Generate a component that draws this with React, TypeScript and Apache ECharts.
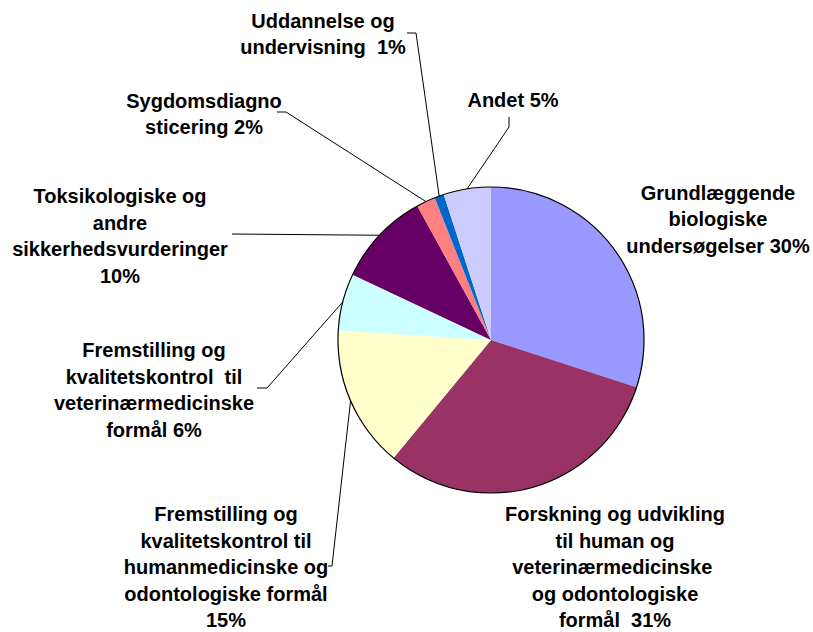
import React, { useEffect, useRef } from 'react';
import * as echarts from 'echarts';

const categories = [
  'Grundlæggende biologiske undersøgelser',
  'Forskning og udvikling til human og veterinærmedicinske og odontologiske formål',
  'Fremstilling og kvalitetskontrol til humanmedicinske og odontologiske formål',
  'Fremstilling og kvalitetskontrol til veterinærmedicinske formål',
  'Toksikologiske og andre sikkerhedsvurderinger',
  'Sygdomsdiagnosticering',
  'Uddannelse og undervisning',
  'Andet',
];
const values = [30, 31, 15, 6, 10, 2, 1, 5];
const labelTexts = [
  'Grundlæggende\nbiologiske\nundersøgelser {v}%',
  'Forskning og udvikling\ntil human og\nveterinærmedicinske \nog odontologiske\nformål  {v}%',
  'Fremstilling og\nkvalitetskontrol til\nhumanmedicinske og\nodontologiske formål\n{v}%',
  'Fremstilling og\nkvalitetskontrol  til\nveterinærmedicinske\nformål {v}%',
  'Toksikologiske og\nandre\nsikkerhedsvurderinger\n{v}%',
  'Sygdomsdiagno\nsticering {v}%',
  'Uddannelse og\nundervisning  {v}%',
  'Andet {v}%',
];
const colors = ['#9999FF', '#993366', '#FFFFCC', '#CCFFFF', '#660066', '#FF8080', '#0066CC', '#CCCCFF'];

// label placement (layout only): label centre and leader-line elbow/end
const labelPos: { x: number; y: number; line: number[][] | null }[] = [
  { x: 718, y: 219, line: null },
  { x: 615, y: 567, line: null },
  { x: 226, y: 567, line: [[332, 566], [328, 566]] },
  { x: 154, y: 390, line: [[267, 388], [257, 388]] },
  { x: 120, y: 236, line: [[232, 234], [232, 234]] },
  { x: 204, y: 114, line: [[286, 112], [277, 112]] },
  { x: 323, y: 34, line: [[416, 33], [407, 33]] },
  { x: 513, y: 100, line: [[509, 127], [509, 117]] },
];

export default function App() {
  const ref = useRef<HTMLDivElement>(null);
  useEffect(() => {
    if (!ref.current) return;
    const chart = echarts.init(ref.current, null, { renderer: 'svg' });
    const center = [491, 340];
    const radius = 153;
    chart.setOption({
      animation: false,
      backgroundColor: '#ffffff',
      series: [
        {
          type: 'pie',
          center,
          radius,
          startAngle: 90,
          clockwise: true,
          avoidLabelOverlap: false,
          silent: true,
          itemStyle: { borderWidth: 0 },
          label: {
            show: true,
            position: 'outside',
            color: '#000',
            fontFamily: 'Liberation Sans, Arial, sans-serif',
            fontWeight: 'bold',
            fontSize: 20,
            lineHeight: 26.5,
            align: 'center',
            formatter: (p: any) => labelTexts[p.dataIndex].replace('{v}', String(p.value)),
          },
          labelLine: {
            show: true,
            length: 10,
            length2: 10,
            lineStyle: { color: '#000', width: 1 },
          },
          labelLayout: (params: any) => {
            const lp = labelPos[params.dataIndex];
            const res: any = { x: lp.x, y: lp.y, align: 'center', verticalAlign: 'middle' };
            if (lp.line && params.labelLinePoints) {
              const start = params.labelLinePoints[0];
              res.labelLinePoints = [[start[0], start[1]], lp.line[0], lp.line[1]];
            }
            return res;
          },
          data: categories.map((name, i) => ({
            name,
            value: values[i],
            itemStyle: { color: colors[i] },
            labelLine: { show: labelPos[i].line !== null },
          })),
        },
        {
          type: 'pie',
          center,
          radius,
          silent: true,
          z: 5,
          label: { show: false },
          labelLine: { show: false },
          itemStyle: { color: 'rgba(0,0,0,0)', borderColor: '#000', borderWidth: 1.2 },
          data: [{ value: 1, name: 'outline' }],
        },
      ],
    });
    return () => chart.dispose();
  }, []);
  return (
    <div
      ref={ref}
      style={{ position: 'absolute', left: 0, top: 0, width: 813, height: 632 }}
    />
  );
}
